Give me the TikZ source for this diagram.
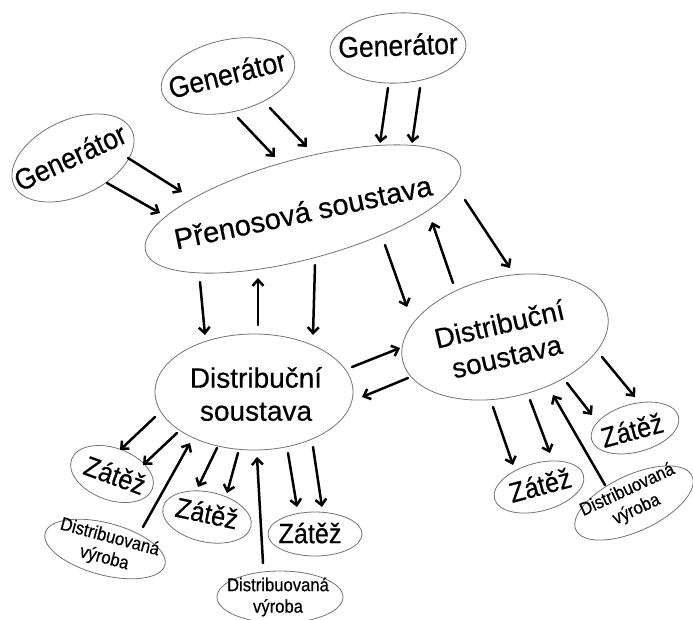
\documentclass[tikz,border=0pt]{standalone}
\usepackage{fontspec}
\setmainfont[FakeBold=0.4]{Liberation Sans}
\newfontfamily\narrowfont[FakeStretch=0.9,FakeBold=0.4]{Liberation Sans}
\usetikzlibrary{shapes.geometric,arrows.meta}
\newcommand\arrw[4]{\draw[arr] ([shift={(#2)}]#1.center) -- ([shift={(#4)}]#3.center);}
\begin{document}
\begin{tikzpicture}[x=1pt,y=-1pt,
  ell/.style={ellipse,draw=black!55,line width=0.8pt,inner sep=0pt},
  txt/.style={inner sep=0pt,align=center},
  arr/.style={line width=2.5pt,line cap=round,-{Straight Barb[length=6pt,width=11pt,line width=2.5pt]}},
  fgen/.style={font=\narrowfont\fontsize{29.5}{34}\selectfont},
  fbig/.style={font=\fontsize{29}{34}\selectfont},
  fdist/.style={font=\fontsize{28}{33}\selectfont},
  fz/.style={font=\narrowfont\fontsize{28}{32}\selectfont},
  fdv/.style={font=\narrowfont\fontsize{18.5}{21.5}\selectfont}]
\useasboundingbox (0,0) rectangle (693,619);
\fill[white] (0,0) rectangle (693,619);
% generators
\node[ell,minimum width=130pt,minimum height=76pt,rotate=25] (g1) at (73,158) {};
\node[txt,fgen,rotate=25] (g1t) at (70,157) {Generátor};
\node[ell,minimum width=136pt,minimum height=72pt,rotate=13] (g2) at (228,76) {};
\node[txt,fgen,rotate=14] (g2t) at (227,74) {Generátor};
\node[ell,minimum width=136pt,minimum height=70pt,rotate=3] (g3) at (398,48) {};
\node[txt,fgen,rotate=2] (g3t) at (398,45) {Generátor};
% transmission
\node[ell,minimum width=326pt,minimum height=100pt,rotate=15] (p) at (303,209) {};
\node[txt,fbig,rotate=12] (pt) at (303,212) {Přenosová soustava};
% distribution
\node[ell,minimum width=198pt,minimum height=116pt] (dl) at (254,392) {};
\node[txt,fdist] (dlt) at (256,394) {Distribuční\\soustava};
\node[ell,minimum width=210pt,minimum height=120pt,rotate=13] (dr) at (505,337) {};
\node[txt,fdist,rotate=13] (drt) at (503,340) {Distribuční\\soustava};
% loads
\node[ell,minimum width=86pt,minimum height=52pt,rotate=-20] (z1) at (112,474) {};
\node[txt,fz,rotate=-20] (z1t) at (115,475) {Zátěž};
\node[ell,minimum width=90pt,minimum height=50pt,rotate=-12] (z2) at (207,517) {};
\node[txt,fz,rotate=-12] (z2t) at (207,513) {Zátěž};
\node[ell,minimum width=94pt,minimum height=44pt] (z3) at (315,534) {};
\node[txt,fz] (z3t) at (310,533) {Zátěž};
\node[ell,minimum width=90pt,minimum height=48pt,rotate=15] (zr1) at (635,428) {};
\node[txt,fz,rotate=15] (zr1t) at (632,430) {Zátěž};
\node[ell,minimum width=92pt,minimum height=48pt,rotate=15] (zr2) at (539,487) {};
\node[txt,fz,rotate=15] (zr2t) at (540,485) {Zátěž};
% distributed generation
\node[ell,minimum width=124pt,minimum height=52pt,rotate=-15] (v1) at (105,549) {};
\node[txt,fdv,rotate=-15] (v1t) at (107,548) {Distribuovaná\\výroba};
\node[ell,minimum width=126pt,minimum height=52pt] (v2) at (280,597) {};
\node[txt,fdv] (v2t) at (278,597) {Distribuovaná\\výroba};
\node[ell,minimum width=128pt,minimum height=56pt,rotate=25] (vr) at (634,503) {};
\node[txt,fdv,rotate=25] (vrt) at (632,500) {Distribuovaná\\výroba};
% arrows
\arrw{g1}{55,0}{p}{-121,-17}
\arrw{g1}{34,25}{p}{-143,4}
\arrw{g2}{10,42}{p}{-28,-52}
\arrw{g2}{42,32}{p}{4,-62}
\arrw{g3}{-10,40}{p}{77,-66}
\arrw{g3}{22,40}{p}{109,-66}
\arrw{p}{-103,73}{dl}{-49,-57}
\arrw{dl}{4,-67}{p}{-45,69}
\arrw{p}{12,56}{dl}{59,-57}
\arrw{p}{82,36}{dr}{-98,-30}
\arrw{dr}{-52,-54}{p}{129,13}
\arrw{p}{162,-9}{dr}{5,-69}
\arrw{dl}{98,-25}{dr}{-105,11}
\arrw{dr}{-97,41}{dl}{108,5}
\arrw{dl}{-99,25}{z1}{8,-24}
\arrw{dl}{-77,41}{z1}{31,-9}
\arrw{v1}{38,-22}{dl}{-64,51}
\arrw{dl}{-37,56}{z2}{-9,-30}
\arrw{dl}{-16,61}{z2}{20,-24}
\arrw{v2}{-17,-34}{dl}{3,65}
\arrw{dl}{34,61}{z3}{-18,-27}
\arrw{dl}{59,55}{z3}{7,-27}
\arrw{dr}{97,20}{zr1}{0,-31}
\arrw{dr}{62,46}{zr1}{-43,-13}
\arrw{vr}{-29,-18}{dr}{48,58}
\arrw{dr}{-12,70}{zr2}{-26,-22}
\arrw{dr}{25,63}{zr2}{11,-34}
\end{tikzpicture}
\end{document}
